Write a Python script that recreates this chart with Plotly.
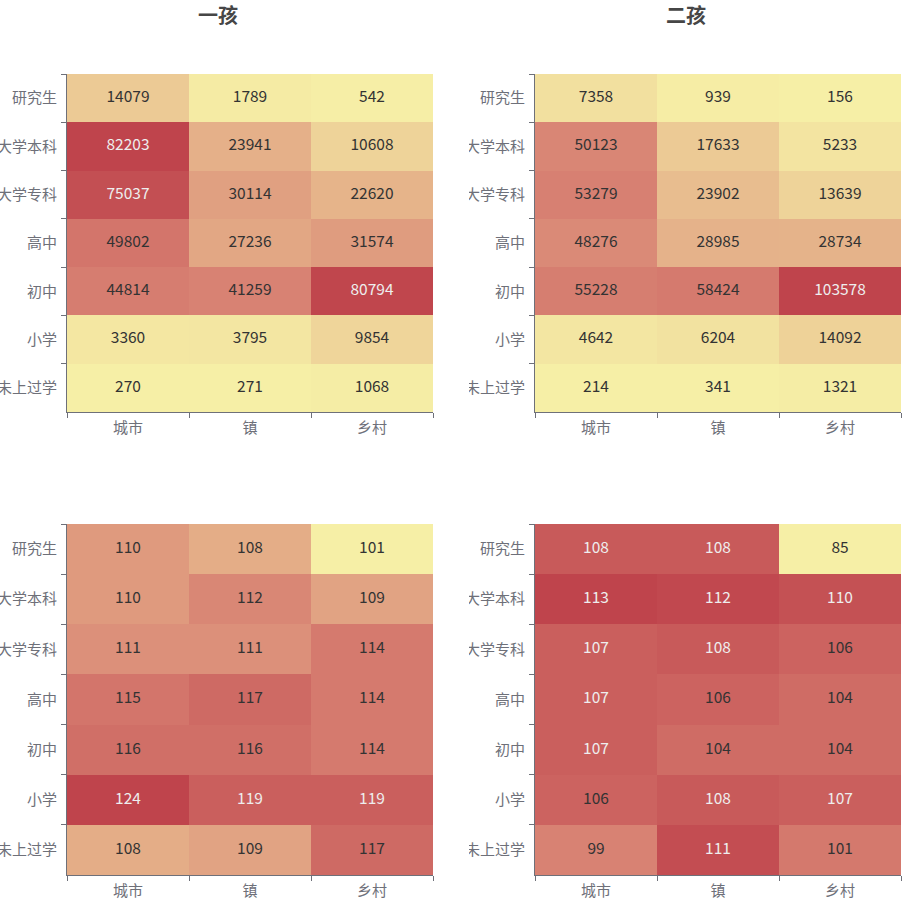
import plotly.graph_objects as go

W, H = 904, 907

areas = ["城市", "镇", "乡村"]
edu = ["研究生", "大学本科", "大学专科", "高中", "初中", "小学", "未上过学"]

titles = ["一孩", "二孩"]

first_child = [
    [14079, 1789, 542],
    [82203, 23941, 10608],
    [75037, 30114, 22620],
    [49802, 27236, 31574],
    [44814, 41259, 80794],
    [3360, 3795, 9854],
    [270, 271, 1068],
]
second_child = [
    [7358, 939, 156],
    [50123, 17633, 5233],
    [53279, 23902, 13639],
    [48276, 28985, 28734],
    [55228, 58424, 103578],
    [4642, 6204, 14092],
    [214, 341, 1321],
]
first_ratio = [
    [110, 108, 101],
    [110, 112, 109],
    [111, 111, 114],
    [115, 117, 114],
    [116, 116, 114],
    [124, 119, 119],
    [108, 109, 117],
]
second_ratio = [
    [108, 108, 85],
    [113, 112, 110],
    [107, 108, 106],
    [107, 106, 104],
    [107, 104, 104],
    [106, 108, 107],
    [99, 111, 101],
]

panels = [first_child, second_child, first_ratio, second_ratio]

colorscale = [[0, "#f6efa6"], [0.5, "#d88273"], [1, "#bf444c"]]

# pixel boxes (x0, x1, ytop, ybottom)
boxes = [
    (67, 433, 74, 412),
    (535, 901, 74, 412),
    (67, 433, 524, 875),
    (535, 901, 524, 875),
]

axis_color = "#6E7079"
font_family = "Noto Sans CJK SC, Microsoft YaHei, sans-serif"

fig = go.Figure()
layout = dict(
    width=W, height=H,
    margin=dict(l=0, r=0, t=0, b=0),
    paper_bgcolor="white", plot_bgcolor="white",
    showlegend=False,
    font=dict(family=font_family),
)

for i, (z, box) in enumerate(zip(panels, boxes)):
    n = i + 1
    xa = "x" if n == 1 else f"x{n}"
    ya = "y" if n == 1 else f"y{n}"
    flat = [v for row in z for v in row]
    zmin, zmax = min(flat), max(flat)
    fig.add_trace(go.Heatmap(
        z=z, x=areas, y=edu, xaxis=xa, yaxis=ya,
        colorscale=colorscale, zmin=zmin, zmax=zmax, showscale=False,
        xgap=0, ygap=0, hoverinfo="skip",
    ))
    tx, ty, tt, tc = [], [], [], []
    for r, row in enumerate(z):
        for c, v in enumerate(row):
            frac = (v - zmin) / (zmax - zmin)
            tx.append(areas[c])
            ty.append(edu[r])
            tt.append(str(v))
            tc.append("#eeeeee" if frac >= 0.77 else "#333333")
    fig.add_trace(go.Scatter(
        x=tx, y=ty, text=tt, mode="text", xaxis=xa, yaxis=ya,
        textfont=dict(size=15.5, color=tc, family=font_family),
        hoverinfo="skip",
    ))
    x0, x1, yt, yb = box
    xkey = "xaxis" if n == 1 else f"xaxis{n}"
    ykey = "yaxis" if n == 1 else f"yaxis{n}"
    layout[xkey] = dict(
        domain=[x0 / W, x1 / W], anchor=ya,
        type="category", categoryorder="array", categoryarray=areas,
        range=[-0.5, 2.5],
        showgrid=False, zeroline=False, showline=True, linecolor=axis_color,
        linewidth=1, ticks="outside", tickson="boundaries", ticklen=5,
        tickcolor=axis_color, tickfont=dict(size=15, color=axis_color),
        ticklabelstandoff=2,
        automargin=False, fixedrange=True,
    )
    layout[ykey] = dict(
        domain=[1 - yb / H, 1 - yt / H], anchor=xa,
        type="category", categoryorder="array", categoryarray=edu,
        range=[6.5, -0.5],
        showgrid=False, zeroline=False, showline=True, linecolor=axis_color,
        linewidth=1, ticks="outside", tickson="boundaries", ticklen=5,
        tickcolor=axis_color, tickfont=dict(size=15, color=axis_color),
        ticklabelstandoff=6,
        automargin=False, fixedrange=True,
    )

fig.update_layout(**layout)

# titles
for t, cx in zip(titles, [218, 686]):
    fig.add_annotation(
        text=f"<b>{t}</b>", x=cx / W, y=1 - 15 / H, xref="paper", yref="paper",
        showarrow=False, xanchor="center", yanchor="middle",
        font=dict(size=20, color="#464646", family=font_family),
    )

# clip the right-hand charts' long labels at their container edge
fig.add_shape(type="rect", xref="paper", yref="paper",
              x0=436 / W, x1=469 / W, y0=0, y1=1,
              fillcolor="white", line=dict(width=0), layer="above")

fig.write_html(
    "out.html",
    config={"displayModeBar": False},
    post_script="document.body.style.margin='0';document.body.style.overflow='hidden';",
)
